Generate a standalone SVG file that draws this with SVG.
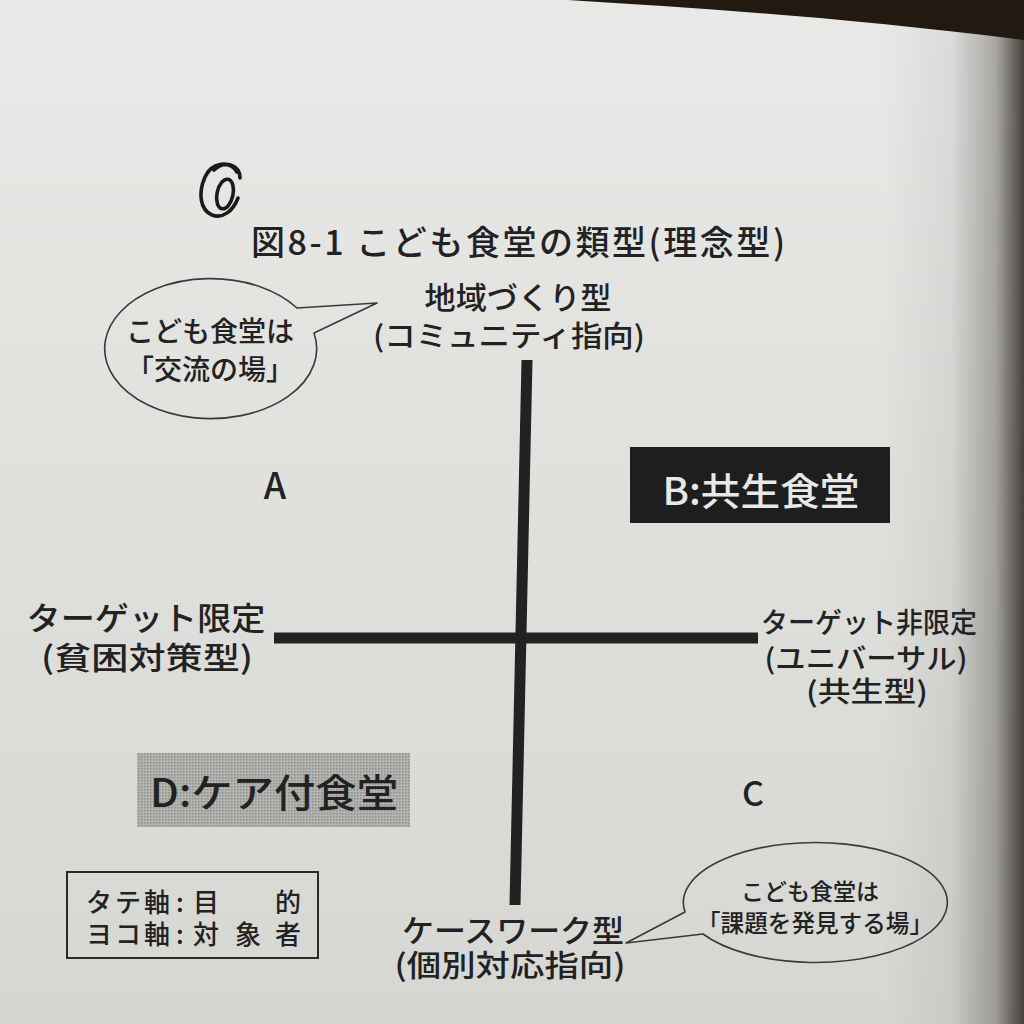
<svg xmlns="http://www.w3.org/2000/svg" width="1024" height="1024" viewBox="0 0 1024 1024">
  <defs>
    <linearGradient id="pageV" x1="0" y1="0" x2="0" y2="1">
      <stop offset="0" stop-color="#e9e9e7"/>
      <stop offset="1" stop-color="#d6d6d3"/>
    </linearGradient>
    <linearGradient id="edgeShade" x1="0" y1="0" x2="1" y2="0">
      <stop offset="0" stop-color="#000" stop-opacity="0"/>
      <stop offset="0.5" stop-color="#000" stop-opacity="0.06"/>
      <stop offset="0.8" stop-color="#1a140e" stop-opacity="0.3"/>
      <stop offset="1" stop-color="#1a140e" stop-opacity="0.78"/>
    </linearGradient>
    <pattern id="halftone" width="3" height="3" patternUnits="userSpaceOnUse">
      <rect width="3" height="3" fill="#b3b3b0"/>
      <rect width="1.5" height="1.5" fill="#8e8e8c"/>
    </pattern>
    <style>
      .t { font-family: "Noto Sans CJK JP", "Noto Sans", sans-serif; font-weight: 500; fill: #222; dominant-baseline: central; }
      .m { text-anchor: middle; }
      .w { fill: #e8e8e6; }
      .bubble { fill: none; stroke: #3a3a3a; stroke-width: 1.6; stroke-linejoin: round; }
      .axis { stroke: #222; stroke-width: 11; stroke-linecap: butt; }
      .ink { fill: none; stroke: #1a1a1a; stroke-width: 3.6; stroke-linecap: round; stroke-linejoin: round; }
    </style>
  </defs>

  <!-- page -->
  <rect x="0" y="0" width="1024" height="1024" fill="url(#pageV)"/>
  <rect x="880" y="0" width="144" height="1024" fill="url(#edgeShade)"/>
  <path d="M568,0 C700,8 850,18 1024,40 L1024,0 Z" fill="#221a10"/>

  <!-- handwritten mark -->
  <g id="handmark">
    <path class="ink" d="M214,170 C224,160 240,164 240,178 M237,172 C230,160 212,162 205,177 C198,193 200,210 212,215 C223,219 233,211 238,198"/>
    <ellipse class="ink" cx="225" cy="194" rx="8" ry="15" transform="rotate(12 225 194)"/>
  </g>

  <g id="title">
    <text class="t" x="251" y="240" font-size="34" textLength="534">図8-1 こども食堂の類型(理念型)</text>
  </g>

  <g id="connectors">
    <line class="axis" x1="527" y1="360" x2="515" y2="905"/>
    <line class="axis" x1="274" y1="638" x2="758" y2="638"/>
  </g>

  <g id="top-label">
    <text class="t m" x="518" y="295" font-size="31" textLength="187" lengthAdjust="spacingAndGlyphs">地域づくり型</text>
    <text class="t m" x="509" y="334" font-size="29" textLength="272" lengthAdjust="spacingAndGlyphs">(コミュニティ指向)</text>
  </g>

  <g id="bubble-left">
    <path class="bubble" d="M297,308 L377,303 L314,333 A106 70 0 1 1 297,308 Z"/>
    <text class="t m" x="210" y="330" font-size="28">こども食堂は</text>
    <text class="t m" x="210" y="368" font-size="28">「交流の場」</text>
  </g>

  <g id="quadrant-a">
    <text class="t m" x="275" y="483" font-size="36">A</text>
  </g>

  <g id="quadrant-b">
    <rect x="630" y="447" width="260" height="76" fill="#1e1e1e"/>
    <text class="t m w" x="761" y="488" font-size="38" textLength="197" lengthAdjust="spacingAndGlyphs">B:共生食堂</text>
  </g>

  <g id="left-label">
    <text class="t m" x="146" y="616" font-size="32" textLength="239" lengthAdjust="spacingAndGlyphs">ターゲット限定</text>
    <text class="t m" x="147" y="655" font-size="31" textLength="212" lengthAdjust="spacingAndGlyphs">(貧困対策型)</text>
  </g>

  <g id="right-label">
    <text class="t m" x="869" y="621" font-size="28" textLength="216" lengthAdjust="spacingAndGlyphs">ターゲット非限定</text>
    <text class="t m" x="866" y="657" font-size="28" textLength="203" lengthAdjust="spacingAndGlyphs">(ユニバーサル)</text>
    <text class="t m" x="867" y="690" font-size="28" textLength="122" lengthAdjust="spacingAndGlyphs">(共生型)</text>
  </g>

  <g id="quadrant-d">
    <rect x="137" y="753" width="273" height="74" fill="url(#halftone)"/>
    <text class="t m" x="274" y="790" font-size="39" textLength="248" lengthAdjust="spacingAndGlyphs">D:ケア付食堂</text>
  </g>

  <g id="quadrant-c">
    <text class="t m" x="753" y="791" font-size="34">C</text>
  </g>

  <g id="legend">
    <rect x="67" y="872" width="251" height="86" fill="none" stroke="#2a2a2a" stroke-width="2"/>
    <text class="t" y="900" font-size="26"><tspan x="86">タ</tspan><tspan x="115">テ</tspan><tspan x="144">軸</tspan><tspan x="176">:</tspan><tspan x="193">目</tspan><tspan x="275">的</tspan></text>
    <text class="t" y="932" font-size="26"><tspan x="86">ヨ</tspan><tspan x="115">コ</tspan><tspan x="144">軸</tspan><tspan x="176">:</tspan><tspan x="193">対</tspan><tspan x="235">象</tspan><tspan x="275">者</tspan></text>
  </g>

  <g id="bottom-label">
    <text class="t m" x="513" y="928" font-size="31" textLength="222" lengthAdjust="spacingAndGlyphs">ケースワーク型</text>
    <text class="t m" x="510" y="963" font-size="30" textLength="231" lengthAdjust="spacingAndGlyphs">(個別対応指向)</text>
  </g>

  <g id="bubble-right">
    <path class="bubble" d="M685,912 L626,943 L703,934 A132 60 0 1 0 685,912 Z"/>
    <text class="t m" x="810" y="890" font-size="23">こども食堂は</text>
    <text class="t m" x="815" y="921" font-size="24" textLength="236" lengthAdjust="spacingAndGlyphs">「課題を発見する場」</text>
  </g>
</svg>
